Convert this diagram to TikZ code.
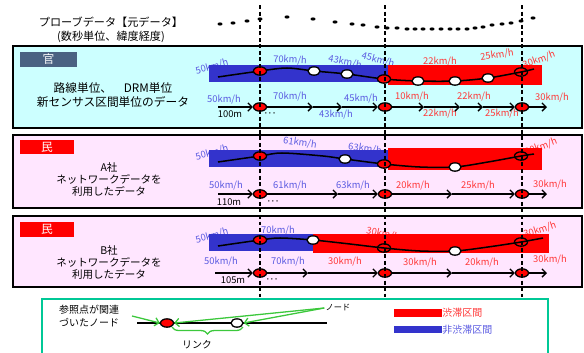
\documentclass[tikz,border=0pt]{standalone}
\usepackage{fontspec}
\setmainfont{Noto Sans CJK JP}
\usepackage{tikz}
\usetikzlibrary{arrows.meta, positioning, shapes.geometric,
                decorations.pathreplacing}
\definecolor{kanfill}{RGB}{204,255,255}
\definecolor{minfill}{RGB}{255,230,255}
\definecolor{kanbox}{RGB}{74,98,130}
\definecolor{bandblue}{RGB}{51,51,204}
\definecolor{txtblue}{RGB}{90,90,225}
\definecolor{txtred}{RGB}{255,55,55}
\definecolor{lggreen}{RGB}{0,200,150}
\definecolor{arrowgreen}{RGB}{60,200,60}

\begin{document}
\begin{tikzpicture}[x=0.03cm, y=-0.03cm,
      panel/.style={draw=black, line width=1.5pt},
      tag/.style={minimum height=0.43cm, inner sep=0pt, text=white,
                  font=\fontsize{10}{12}\selectfont},
      desc/.style={align=center, font=\fontsize{9}{10.3}\selectfont},
      spd/.style={inner sep=0pt, font=\fontsize{8}{9}\selectfont},
      curve/.style={line width=1.3pt, line join=round},
      row/.style={line width=1.1pt},
      rednode/.style={ellipse, draw=black, fill=red, line width=1.1pt,
                  minimum width=0.39cm, minimum height=0.25cm, inner sep=0pt},
      whitenode/.style={rednode, fill=white, minimum width=0.36cm},
      ringnode/.style={rednode, fill=none},
      cut/.style={line width=1.4pt, dash pattern=on 3.4pt off 2.2pt},
      gline/.style={draw=arrowgreen, line width=1.1pt},
      >={Straight Barb[length=3.5pt, width=7pt]}]
    \useasboundingbox (0,0) rectangle (584,352);

    % probe data
    \node[desc, font=\fontsize{9.5}{12}\selectfont] (probe) at (111,30)
         {プローブデータ【元データ】\\(数秒単位、緯度経度)};
    \foreach \x/\y in {220/24, 233/23, 247/21, 260/19, 287/17, 313/19,
                       335/22, 352/24, 363/25, 377/27, 387/28, 397/28,
                       407/29, 415/29, 423/29, 432/29, 441/29, 450/29,
                       458/29, 467/29, 475/28, 483/27, 492/25, 502/24,
                       511/23, 521/21, 533/18}
      \fill (\x,\y) ellipse [x radius=0.075cm, y radius=0.048cm];

    % panels
    \draw[panel, fill=kanfill] (13,46) rectangle (582,128);
    \draw[panel, fill=minfill] (13,135) rectangle (582,208);
    \draw[panel, fill=minfill] (13,216) rectangle (582,287);
    \node[tag, fill=kanbox, minimum width=1.71cm] (kanTag) at (48.5,59.5) {官};
    \node[tag, fill=red, minimum width=1.62cm] (maTag) at (47,147) {民};
    \node[tag, fill=red, minimum width=1.62cm] (mbTag) at (47,229.5) {民};
    \node[desc, font=\fontsize{10}{11.2}\selectfont] (kanTxt) at (113,95)
         {路線単位、　DRM単位\\新センサス区間単位のデータ};
    \node[desc] (maTxt) at (109,179.5) {A社\\ネットワークデータを\\利用したデータ};
    \node[desc] (mbTxt) at (109,262.5) {B社\\ネットワークデータを\\利用したデータ};

    % speed labels
    \foreach \x/\y/\r/\s [count=\i] in {212/67/15/50, 290/60/-3/70,
        345/62/-12/43, 378/60/-15/45, 224/100/0/50, 290/97/0/70,
        336/115/0/43, 361/99/0/45, 212/153/15/50, 300/143/-8/61,
        365/149/-8/63, 226/186/0/50, 290/186/0/61, 353/186/0/63,
        212/236/15/50, 278/231/0/70, 221/262/0/50, 288/262/0/70}
      \node[spd, text=txtblue, rotate=\r] (bluU\i) at (\x,\y) {\s km/h};
    \foreach \x/\y/\r/\s [count=\i] in {440/62/0/22, 497/55/8/25,
        539/60/20/30, 412/97/0/10, 440/114/0/22, 474/97/0/22,
        502/114/0/25, 552/98/0/30, 541/147/20/30, 413/186/0/20,
        478/186/0/25, 550/185/0/30, 383/234/-12/30, 540/230/18/30,
        345/262/0/30, 420/263/0/30, 482/263/0/20, 550/260/0/30}
      \node[spd, text=txtred, rotate=\r] (redU\i) at (\x,\y) {\s km/h};
    \foreach \x/\y/\d [count=\i] in {230/114/100, 229/202/110, 233/280/105}
      \node[spd] (dist\i) at (\x,\y) {\d m};
    \foreach \x/\y [count=\i] in {270/115/, 273/203, 272/281}
      \node[spd, font=\fontsize{7}{7}\selectfont] (dots\i) at (\x,\y) {･･･};

    % bands
    \fill[bandblue] (209,65) rectangle (388,82);
    \fill[red] (388,65) rectangle (542,85);
    \fill[bandblue] (209,150) rectangle (388,167);
    \fill[red] (388,148) rectangle (542,170);
    \fill[bandblue] (209,234) rectangle (313,251);
    \fill[red] (313,234) rectangle (549,253);

    % link curves
    \foreach \n/\x/\y in {0/218/77, 1/260/71, 2/287/68, 3/314/71, 4/347/74,
                          5/384/79, 6/418/81, 7/455/81, 8/488/78, 9/521/72,
                          10/534/69}
      \coordinate (kanC\n) at (\x,\y);
    \foreach \n/\x/\y in {0/218/162, 1/260/156, 2/282/153, 3/323/156,
                          4/345/159, 5/384/164, 6/420/167, 7/455/167,
                          8/488/162, 9/521/156, 10/534/154}
      \coordinate (maC\n) at (\x,\y);
    \foreach \n/\x/\y in {0/218/246, 1/260/240, 2/280/238, 3/313/240,
                          4/350/244, 5/384/248, 6/420/251, 7/455/251,
                          8/488/247, 9/521/242, 10/543/238}
      \coordinate (mbC\n) at (\x,\y);
    \foreach \p in {kan, ma, mb}
      \draw[curve] plot[smooth, tension=0.5] coordinates {(\p C0) (\p C1)
        (\p C2) (\p C3) (\p C4) (\p C5) (\p C6) (\p C7) (\p C8) (\p C9)
        (\p C10)};
    \foreach \n in {1,5} \node[rednode] (kanN\n) at (kanC\n) {};
    \foreach \n in {3,4,6,7,8} \node[whitenode] (kanN\n) at (kanC\n) {};
    \node[ringnode] (kanN9) at (kanC9) {};
    \foreach \n in {1,5} \node[rednode] (maN\n) at (maC\n) {};
    \foreach \n in {4,7} \node[whitenode] (maN\n) at (maC\n) {};
    \node[ringnode] (maN9) at (maC9) {};
    \node[rednode] (mbN1) at (mbC1) {};
    \foreach \n in {3,7} \node[whitenode] (mbN\n) at (mbC\n) {};
    \foreach \n in {5,9} \node[ringnode] (mbN\n) at (mbC\n) {};

    % section rows
    \foreach \p/\y/\s in {kan/107/218, ma/194/218, mb/273/215} {
      \coordinate (\p S) at (\s,\y);
      \coordinate (\p E) at (547,\y);
      \foreach \n/\x in {1/260, 2/385, 3/522}
        \node[rednode] (\p R\n) at (\x,\y) {};
    }
    \foreach \n/\x in {1/313, 2/342, 3/424, 4/460, 5/483}
      \coordinate (kanT\n) at (\x,107);
    \foreach \n/\x in {1/338, 2/452} \coordinate (maT\n) at (\x,194);
    \foreach \n/\x in {1/308, 2/452} \coordinate (mbT\n) at (\x,273);
    \foreach \a/\b in {kanS/kanR1, kanR1/kanT1, kanT1/kanT2, kanT2/kanR2,
                       kanR2/kanT3, kanT3/kanT4, kanT4/kanT5, kanT5/kanR3,
                       kanR3/kanE, maS/maR1, maR1/maT1, maT1/maR2, maR2/maT2,
                       maT2/maR3, maR3/maE, mbS/mbR1, mbR1/mbT1, mbT1/mbR2,
                       mbR2/mbT2, mbT2/mbR3, mbR3/mbE}
      \draw[row, ->] (\a) -- (\b);

    \foreach \n/\x in {1/260, 2/385, 3/522} {
      \coordinate (cutT\n) at (\x,5);
      \coordinate (cutB\n) at (\x,297);
      \draw[cut] (cutT\n) -- (cutB\n);
    }

    % legend
    \draw[lggreen, line width=1.3pt] (42,358) -- (42,299) -- (548,299) -- (548,358);
    \node[align=left, anchor=west, inner sep=0pt,
          font=\fontsize{8.5}{11.5}\selectfont] (lgRef) at (59,316)
         {参照点が関連\\づいたノード};
    \coordinate (lgA) at (137,323);
    \coordinate (lgB) at (327,323);
    \draw[row] (lgA) -- (lgB);
    \node[rednode] (lgR) at (167,323) {};
    \node[whitenode] (lgW) at (237,323) {};
    \node[inner sep=1pt, font=\fontsize{7}{8}\selectfont] (lgNode) at (338,308) {ノード};
    \coordinate (lgFrom) at (132,316);
    \draw[gline, ->] (lgFrom) -- (lgR.west);
    \draw[gline, ->] (lgNode.west) -- (lgR.east);
    \draw[gline, ->] (lgNode.west) -- (lgW.east);
    \draw[arrowgreen, line width=1.1pt, decorate,
          decoration={brace, mirror, amplitude=6pt}] (172,327) -- (243,327);
    \node[font=\fontsize{8.5}{10}\selectfont] (lgLink) at (197,345) {リンク};
    \node[fill=red, minimum width=1.44cm, minimum height=0.24cm,
          inner sep=0pt] (lgRed) at (418,313) {};
    \node[right=0pt of lgRed, inner sep=0pt, text=txtred,
          font=\fontsize{8.5}{10}\selectfont] (lgRedTxt) {渋滞区間};
    \node[fill=bandblue, minimum width=1.44cm, minimum height=0.22cm,
          inner sep=0pt] (lgBlue) at (418,329.5) {};
    \node[right=0pt of lgBlue, inner sep=0pt, text=txtblue,
          font=\fontsize{8.5}{10}\selectfont] (lgBlueTxt) {非渋滞区間};
\end{tikzpicture}
\end{document}
